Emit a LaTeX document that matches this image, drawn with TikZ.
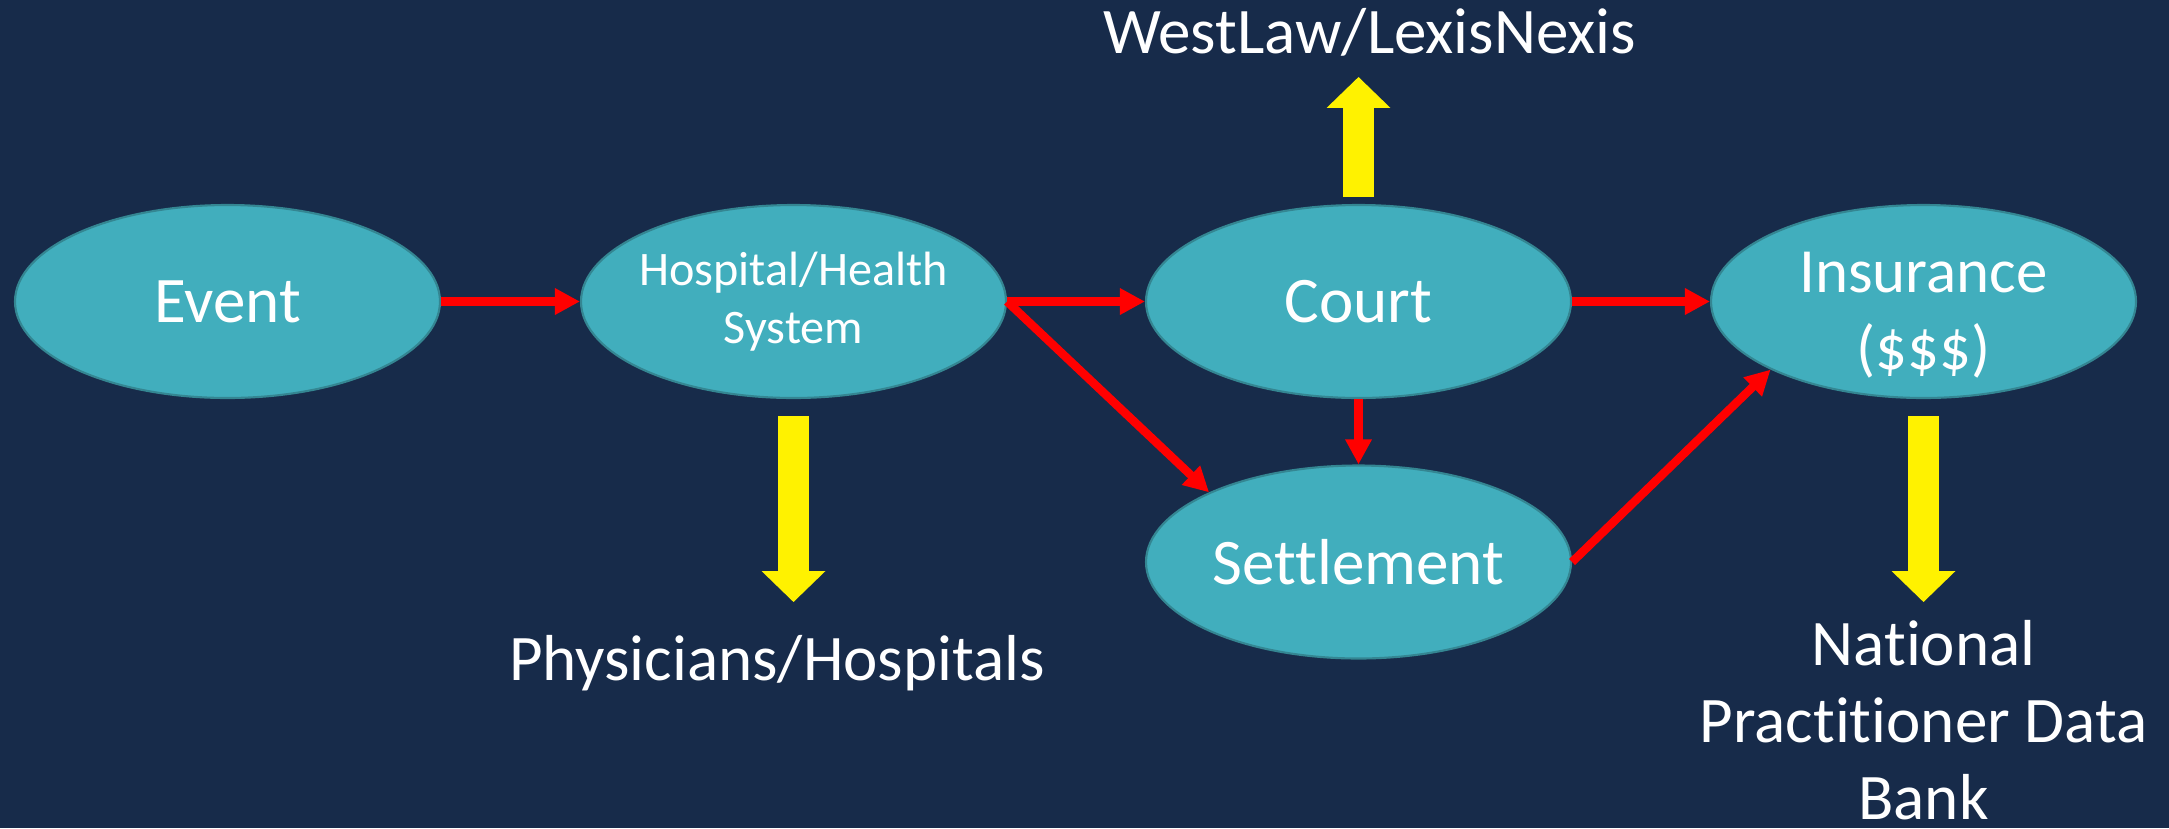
\documentclass[tikz,border=0pt]{standalone}
\usepackage{fontspec}
\setmainfont{Carlito}[Ligatures={NoCommon,NoContextual}]
\usetikzlibrary{arrows.meta,shapes.geometric}
\definecolor{bgnavy}{RGB}{23,43,74}
\definecolor{blobteal}{RGB}{65,174,189}
\definecolor{blobedge}{RGB}{52,134,146}
\tikzset{
	blob/.style={ellipse, draw=blobedge, line width=0.6pt, fill=blobteal, text=white,
		minimum width=4.25cm, minimum height=1.93cm, inner sep=0pt, inner xsep=-0.1cm,
		font=\fontsize{18.5}{22}\selectfont},
	redarrow/.style={draw=red, line width=2.4pt, -{Triangle[length=0.25cm,width=0.25cm]}},
	fatarrow/.style={draw=yellow, line width=0.31cm, -{Triangle[length=0.31cm,width=0.62cm]}},
	outtext/.style={text=white, inner sep=0pt, font=\fontsize{18.5}{21.9}\selectfont}
}

\begin{document}
\begin{tikzpicture}
			%%%%% START %%%%%
			\fill[bgnavy] (0, 0) rectangle (21.69, -8.28);
			\useasboundingbox (0, 0) rectangle (21.69, -8.28);
			
			\node[blob] (ev) at (2.275, -3.015) {Event};
			\node[blob, align=center, font=\fontsize{13.7}{16.5}\selectfont] (hosp) at (7.935, -3.015) {Hospital/Health\\System};
			\node[blob] (court) at (13.585, -3.015) {Court};
			\node[blob, label={[name=instext, text=white, inner sep=0pt, align=center, yshift=-0.14cm, font=\fontsize{17.9}{21.9}\selectfont]center:Insurance\\(\$\$\$)}] (ins) at (19.235, -3.015) {};
			\node[blob] (settle) at (13.585, -5.62) {Settlement};
			
			\node[outtext, anchor=base] (west) at (13.695, -0.53) {WestLaw/LexisNexis};
			\node[outtext, anchor=base] (phys) at (7.77, -6.80) {Physicians/Hospitals};
			\node[outtext, align=center] (npdb) at (19.235, -7.20) {National\\Practitioner Data\\Bank};
			
			\draw[redarrow] (ev.east) -- (hosp.west);
			\draw[redarrow] (hosp.east) -- (court.west);
			\draw[redarrow] (hosp.east) -- (settle.155);
			\draw[redarrow] (court.south) -- (settle.north);
			\draw[redarrow] (court.east) -- (ins.west);
			\draw[redarrow] (settle.east) -- (ins.204);
			
			\draw[fatarrow] ([yshift=0.07cm]court.north) -- ++(0, 1.2);
			\draw[fatarrow] ([yshift=-0.17cm]hosp.south) -- ++(0, -1.86);
			\draw[fatarrow] ([yshift=-0.17cm]ins.south) -- ++(0, -1.86);
			%%%%% END %%%%%
\end{tikzpicture}
\end{document}
